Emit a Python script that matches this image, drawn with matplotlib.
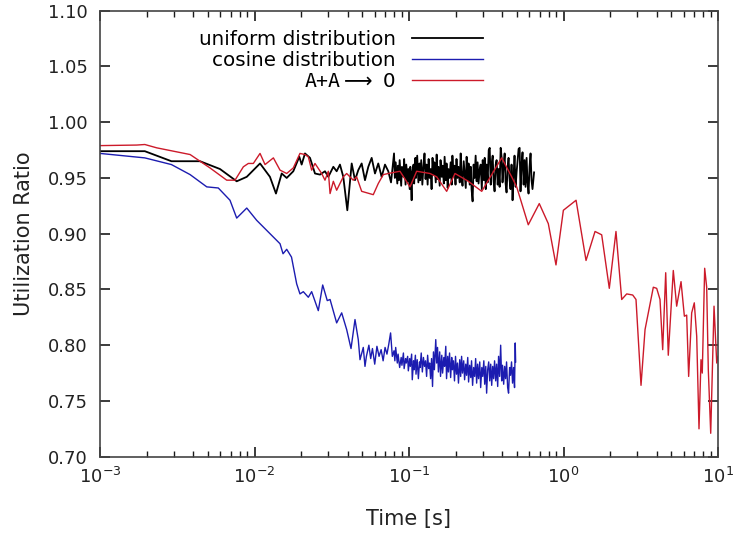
import matplotlib
matplotlib.use("Agg")
import matplotlib.pyplot as plt
from matplotlib.ticker import FormatStrFormatter, MultipleLocator, LogLocator, NullFormatter
import numpy as np

# ---------------- data ----------------
# uniform distribution (black)
uniform_t_ms = [1, 1.95, 2.9, 4.44, 5.98, 7.67, 8.91, 10.86, 11.7, 12.59,
                13.77, 15.0, 16.16, 17.83, 19.5, 20.19, 21.22, 22.87, 24.63, 26.54,
                28.59, 30.05, 32.38, 34.02, 35.74, 37.56, 39.88, 42.57, 44.72, 46.95,
                49.39, 51.9, 54.52, 57.33, 60.23, 63.26, 66.48, 69.92, 73.45, 76.5,
                80, 81, 82, 84, 85, 86, 87, 89, 90, 92,
                93, 95, 96, 98, 99, 101, 102, 104, 105, 107,
                108, 110, 111, 113, 115, 117, 118, 120, 122, 124,
                126, 128, 130, 132, 134, 136, 138, 140, 142, 144,
                146, 149, 151, 153, 155, 158, 160, 163, 165, 168,
                170, 173, 175, 178, 180, 183, 186, 189, 191, 194,
                197, 200, 203, 206, 209, 213, 216, 219, 222, 226,
                229, 233, 236, 240, 243, 247, 251, 254, 258, 262,
                266, 270, 274, 278, 282, 287, 291, 296, 300, 305,
                309, 314, 318, 323, 328, 333, 338, 343, 348, 353,
                358, 364, 369, 375, 380, 386, 392, 398, 403, 410,
                416, 422, 428, 435, 441, 448, 454, 461, 468, 475,
                482, 490, 497, 505, 512, 520, 527, 535, 543, 552,
                560, 568, 577, 585, 594, 603, 612, 621, 630, 645]
uniform_ratio = [0.974, 0.974, 0.965, 0.965, 0.958, 0.947, 0.951, 0.963, 0.957, 0.951,
                 0.936, 0.954, 0.950, 0.956, 0.969, 0.962, 0.972, 0.968, 0.954, 0.953,
                 0.956, 0.951, 0.960, 0.956, 0.962, 0.951, 0.921, 0.963, 0.948, 0.957,
                 0.963, 0.948, 0.960, 0.968, 0.954, 0.963, 0.951, 0.962, 0.956, 0.946,
                 0.972, 0.950, 0.964, 0.945, 0.961, 0.948, 0.966, 0.943, 0.960, 0.951,
                 0.967, 0.944, 0.962, 0.947, 0.958, 0.940, 0.960, 0.930, 0.955, 0.962,
                 0.945, 0.968, 0.950, 0.970, 0.946, 0.963, 0.948, 0.966, 0.944, 0.960,
                 0.972, 0.949, 0.962, 0.944, 0.967, 0.950, 0.958, 0.940, 0.968, 0.953,
                 0.964, 0.946, 0.971, 0.949, 0.960, 0.943, 0.966, 0.951, 0.961, 0.945,
                 0.969, 0.948, 0.963, 0.941, 0.958, 0.950, 0.964, 0.944, 0.970, 0.952,
                 0.961, 0.944, 0.967, 0.950, 0.960, 0.946, 0.972, 0.951, 0.943, 0.965,
                 0.955, 0.941, 0.969, 0.948, 0.963, 0.944, 0.960, 0.940, 0.929, 0.962,
                 0.950, 0.970, 0.947, 0.964, 0.945, 0.958, 0.962, 0.940, 0.966, 0.948,
                 0.968, 0.940, 0.962, 0.946, 0.975, 0.977, 0.944, 0.963, 0.970, 0.947,
                 0.938, 0.962, 0.966, 0.944, 0.958, 0.942, 0.977, 0.968, 0.946, 0.962,
                 0.972, 0.945, 0.937, 0.960, 0.968, 0.948, 0.940, 0.962, 0.930, 0.952,
                 0.970, 0.942, 0.955, 0.966, 0.976, 0.977, 0.938, 0.962, 0.973, 0.944,
                 0.966, 0.942, 0.968, 0.946, 0.936, 0.960, 0.972, 0.948, 0.940, 0.955]

# cosine distribution (blue)
cosine_t_ms = [1, 1.95, 2.9, 3.83, 4.91, 5.83, 6.94, 7.67, 8.91, 10.33,
               13.25, 14.63, 15.30, 16.16, 17.36, 18.75, 19.69, 20.70, 22.30, 23.44,
               25.88, 27.63, 29.58, 30.84, 34.02, 36.67, 39.50, 42.14, 44.72, 46.95,
               48.19, 50.59, 51.90,
               53, 55, 56.5, 58, 60, 62, 64, 66, 68, 70,
               72, 74, 76, 78, 80, 81, 82, 84, 85, 87,
               89, 90, 92, 93, 95, 96, 98, 99, 101, 102,
               104, 105, 107, 108, 110, 111, 113, 115, 117, 118,
               120, 122, 124, 126, 128, 130, 132, 134, 136, 138,
               140, 142, 144, 146, 149, 151, 153, 155, 158, 160,
               163, 165, 168, 170, 173, 175, 178, 180, 183, 186,
               189, 191, 194, 197, 200, 203, 206, 209, 213, 216,
               219, 222, 226, 229, 233, 236, 240, 243, 247, 251,
               254, 258, 262, 266, 270, 274, 278, 282, 287, 291,
               296, 300, 305, 309, 314, 318, 323, 328, 333, 338,
               343, 348, 353, 358, 364, 369, 375, 380, 386, 392,
               398, 403, 410, 416, 422, 428, 435, 441, 448, 454,
               461, 468, 475, 482, 487, 490]
cosine_ratio = [0.972, 0.968, 0.962, 0.953, 0.942, 0.941, 0.930, 0.914, 0.923, 0.912,
                0.897, 0.891, 0.882, 0.886, 0.879, 0.855, 0.846, 0.848, 0.843, 0.848,
                0.831, 0.854, 0.840, 0.841, 0.820, 0.829, 0.814, 0.797, 0.823, 0.805,
                0.787, 0.798, 0.781,
                0.790, 0.800, 0.788, 0.797, 0.783, 0.799, 0.790, 0.796, 0.786, 0.798,
                0.792, 0.801, 0.811, 0.790, 0.795, 0.786, 0.798, 0.784, 0.792, 0.780,
                0.789, 0.782, 0.793, 0.779, 0.788, 0.784, 0.790, 0.777, 0.788, 0.781,
                0.792, 0.769, 0.786, 0.778, 0.791, 0.774, 0.787, 0.770, 0.785, 0.780,
                0.793, 0.776, 0.789, 0.781, 0.786, 0.772, 0.791, 0.779, 0.784, 0.770,
                0.788, 0.763, 0.794, 0.778, 0.805, 0.784, 0.798, 0.776, 0.794, 0.772,
                0.791, 0.775, 0.789, 0.781, 0.799, 0.770, 0.790, 0.776, 0.793, 0.771,
                0.789, 0.778, 0.786, 0.768, 0.790, 0.774, 0.784, 0.766, 0.787, 0.772,
                0.790, 0.775, 0.786, 0.769, 0.783, 0.773, 0.789, 0.767, 0.782, 0.771,
                0.786, 0.764, 0.780, 0.772, 0.788, 0.766, 0.783, 0.770, 0.785, 0.762,
                0.780, 0.772, 0.786, 0.765, 0.781, 0.757, 0.778, 0.785, 0.768, 0.783,
                0.764, 0.781, 0.770, 0.786, 0.768, 0.783, 0.763, 0.790, 0.772, 0.800,
                0.768, 0.782, 0.765, 0.781, 0.770, 0.785, 0.762, 0.757, 0.780, 0.773,
                0.785, 0.766, 0.780, 0.762, 0.802, 0.785]

# A+A -> 0 (red)
annih_t_s = [0.001, 0.00173, 0.00195, 0.00233, 0.00383, 0.00444, 0.00515, 0.00661, 0.00748, 0.00847,
             0.00912, 0.00983, 0.01086, 0.0117, 0.01325, 0.01463, 0.01616, 0.01783, 0.01969, 0.02122,
             0.0223, 0.02344, 0.02463, 0.02722, 0.02859, 0.03005, 0.03084, 0.03238, 0.03402, 0.03574,
             0.03756, 0.0395, 0.04357, 0.04581, 0.04939, 0.05872, 0.06326, 0.06817, 0.07345, 0.0874,
             0.1015, 0.1121, 0.1368, 0.1511, 0.1753, 0.1985, 0.2421, 0.2956, 0.3981, 0.4621,
             0.4977, 0.5916, 0.6969, 0.7975, 0.894, 0.998, 1.206, 1.399, 1.600, 1.767,
             1.979, 2.186, 2.381, 2.565, 2.805, 2.946, 3.175, 3.371, 3.814, 4.010,
             4.214, 4.385, 4.587, 4.766, 5.136, 5.401, 5.764, 6.058, 6.270, 6.457,
             6.755, 7.024, 7.281, 7.534, 7.762, 7.910, 8.199, 8.448, 8.655, 8.971,
             9.425, 9.813, 10.0]
annih_ratio = [0.979, 0.9795, 0.980, 0.977, 0.971, 0.965, 0.959, 0.948, 0.948, 0.960,
               0.963, 0.963, 0.972, 0.962, 0.968, 0.957, 0.954, 0.959, 0.972, 0.971,
               0.969, 0.957, 0.963, 0.954, 0.948, 0.956, 0.936, 0.947, 0.939, 0.945,
               0.951, 0.954, 0.948, 0.951, 0.938, 0.935, 0.945, 0.953, 0.954, 0.956,
               0.942, 0.956, 0.954, 0.951, 0.938, 0.954, 0.947, 0.938, 0.968, 0.951,
               0.942, 0.908, 0.927, 0.909, 0.872, 0.921, 0.930, 0.876, 0.902, 0.899,
               0.851, 0.902, 0.841, 0.846, 0.845, 0.841, 0.764, 0.814, 0.852, 0.851,
               0.841, 0.796, 0.865, 0.791, 0.867, 0.835, 0.857, 0.826, 0.827, 0.772,
               0.829, 0.838, 0.808, 0.725, 0.787, 0.775, 0.869, 0.852, 0.778, 0.721,
               0.835, 0.784, 0.790]

series_labels = ["uniform distribution", "cosine distribution",
                 r"$\mathtt{A{+}A}\longrightarrow$ 0"]
x_label = "Time [s]"
y_label = "Utilization Ratio"

# ---------------- plot ----------------
plt.rcParams['font.family'] = ['DejaVu Sans']
fig = plt.figure(figsize=(7.34, 5.34), dpi=100)
ax = fig.add_axes([100 / 734, 1 - 456.7 / 534, 618 / 734, 446 / 534])

ax.plot(np.array(uniform_t_ms) / 1000.0, uniform_ratio, color='black', lw=1.3,
        label=series_labels[0])
ax.plot(np.array(cosine_t_ms) / 1000.0, cosine_ratio, color='#1c1cb0', lw=1.0,
        label=series_labels[1])
ax.plot(annih_t_s, annih_ratio, color='#cc1a2a', lw=1.0, label=series_labels[2])

ax.set_xscale('log')
ax.set_xlim(1e-3, 10)
ax.set_ylim(0.70, 1.10)
ax.xaxis.set_major_locator(LogLocator(base=10))
ax.xaxis.set_minor_locator(LogLocator(base=10, subs=np.arange(2, 10), numticks=50))
ax.xaxis.set_minor_formatter(NullFormatter())
ax.yaxis.set_major_locator(MultipleLocator(0.05))
ax.yaxis.set_major_formatter(FormatStrFormatter('%.2f'))

ax.tick_params(which='both', direction='in', top=True, right=True, colors='#1a1a1a',
               labelcolor='#222222')
ax.tick_params(which='major', length=7, width=1.2, labelsize=13)
ax.tick_params(which='minor', length=4.5, width=1.0)
ax.tick_params(axis='x', which='major', pad=7)
ax.tick_params(axis='y', which='major', pad=9)
for s in ax.spines.values():
    s.set_color('#444444')
    s.set_linewidth(1.2)

ax.set_xlabel(x_label, fontsize=15, color='#222222', labelpad=16)
ax.set_ylabel(y_label, fontsize=15, color='#222222', labelpad=10)

leg = ax.legend(loc='upper right', bbox_to_anchor=(483 / 734, 1 - 30 / 534),
                bbox_transform=fig.transFigure, frameon=False, markerfirst=False,
                fontsize=14.3, handlelength=3.6, handletextpad=0.78, labelspacing=0.1,
                borderpad=0, borderaxespad=0)

fig.savefig("out.png", dpi=100)
